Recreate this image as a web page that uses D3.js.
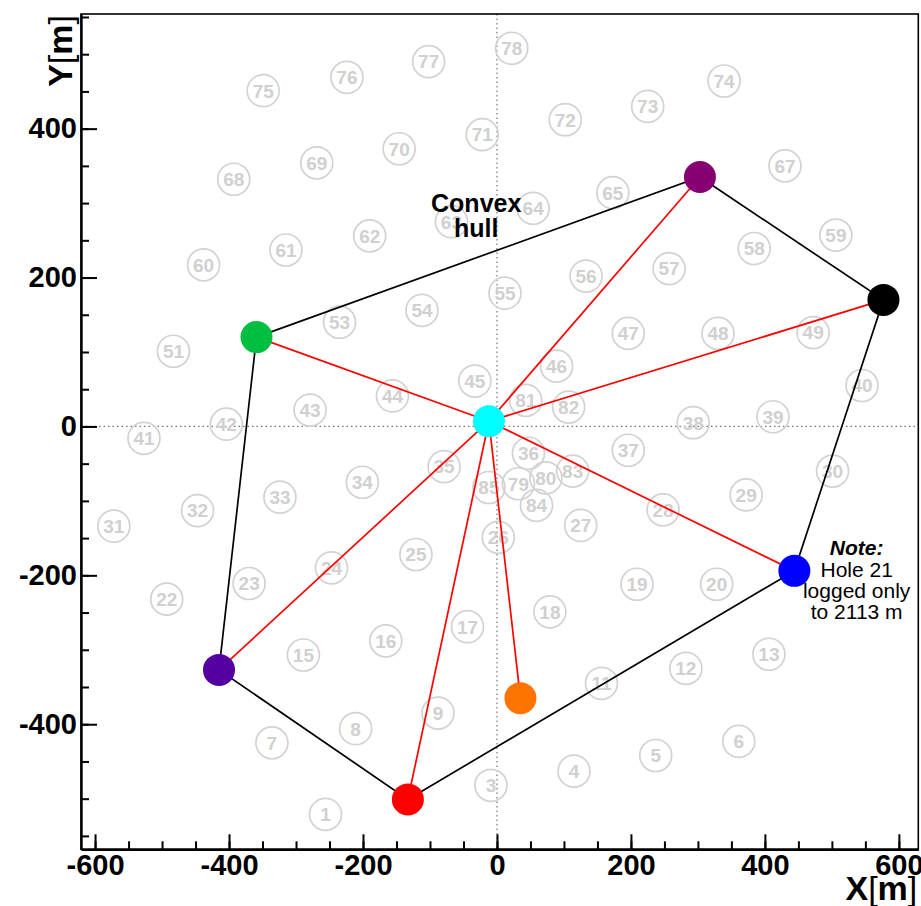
<!DOCTYPE html>
<html>
<head>
<meta charset="utf-8">
<script src="https://cdn.jsdelivr.net/npm/d3@7"></script>
<style>
  body { margin: 0; background: #fff; }
  text { font-family: "Liberation Sans", Arial, Helvetica, sans-serif; }
</style>
</head>
<body>
<div id="chart"></div>
<script>
// gray holes (number, x [m], y [m])
const holeIds = [1, 3, 4, 5, 6, 7, 8, 9, 11, 12, 13, 15, 16, 17, 18, 19, 20,
    22, 23, 24, 25, 26, 27, 28, 29, 30, 31, 32, 33, 34, 35, 36, 37, 38, 39, 40,
    41, 42, 43, 44, 45, 46, 47, 48, 49, 51, 53, 54, 55, 56, 57, 58, 59, 60, 61,
    62, 63, 64, 65, 67, 68, 69, 70, 71, 72, 73, 74, 75, 76, 77, 78, 79, 80, 81,
    82, 83, 84, 85];
const holeX = [-256, -9, 115, 237, 361, -336, -211, -88, 156, 282, 406, -289, -166, -44, 79, 209, 328,
    -493, -370, -247, -121, 2, 125, 248, 372, 501, -572, -447, -324, -201, -79, 47, 196, 293, 412, 545,
    -527, -404, -279, -156, -33, 89, 196, 330, 472, -483, -235, -112, 12, 133, 257, 384, 506, -438, -315,
    -190, -68, 54, 173, 430, -393, -269, -146, -22, 102, 225, 339, -349, -224, -102, 22, 32, 73, 43,
    107, 113, 59, -12];
const holeY = [-521, -482, -463, -442, -423, -425, -406, -385, -345, -325, -306, -307, -288, -269, -249, -212, -212,
    -232, -211, -190, -172, -149, -133, -112, -92, -60, -134, -113, -95, -75, -54, -36, -32, 5, 13, 55,
    -16, 3, 22, 41, 61, 81, 125, 125, 126, 101, 140, 156, 179, 202, 212, 239, 257, 217, 237,
    256, 275, 293, 314, 350, 332, 354, 373, 392, 412, 430, 464, 451, 469, 490, 508, -77, -69, 35,
    26, -60, -106, -82];

// logged holes, in convex hull order, plus hole 10 inside the hull
const wellIds = [52, 66, 50, 21, 2, 14, 10];
const wellX = [-359, 303, 577, 444, -133, -415, 35];
const wellY = [120, 335, 170, -194, -501, -327, -365];
const wellColors = ["#00bf40", "#870073", "#000000", "#0000ff", "#ff0000", "#5500a0", "#ff7300"];
const hullOrder = [52, 66, 50, 21, 2, 14];
const centre = {x: -12, y: 7};

const xMajor = [-600, -400, -200, 0, 200, 400, 600];
const yMajor = [-400, -200, 0, 200, 400];
const xMinor = d3.range(-600, 601, 50);
const yMinor = d3.range(-550, 551, 50);

const width = 921, height = 906;
const margin = {top: 14, right: 2.7, bottom: 56.7, left: 81};

const svg = d3.select("#chart").append("svg")
    .attr("width", width)
    .attr("height", height);

const x = d3.scaleLinear()
    .domain([-621, 629])
    .range([margin.left, width - margin.right]);
const y = d3.scaleLinear()
    .domain([-568, 554])
    .range([height - margin.bottom, margin.top]);

// zero lines
svg.append("line")
    .attr("x1", x(0)).attr("x2", x(0))
    .attr("y1", y.range()[1]).attr("y2", y.range()[0])
    .style("stroke", "#777").style("stroke-width", 1.2)
    .style("stroke-dasharray", "1.5,3");
svg.append("line")
    .attr("x1", x.range()[0]).attr("x2", x.range()[1])
    .attr("y1", y(0)).attr("y2", y(0))
    .style("stroke", "#777").style("stroke-width", 1.2)
    .style("stroke-dasharray", "1.5,3");

// gray holes
const holes = holeIds.map((id, i) => ({id: id, x: holeX[i], y: holeY[i]}));
const hg = svg.append("g").selectAll("g")
    .data(holes)
    .join("g")
    .attr("transform", d => `translate(${x(d.x)},${y(d.y)})`);
hg.append("circle")
    .attr("r", 16)
    .style("fill", "none")
    .style("stroke", "#d2d2d2")
    .style("stroke-width", 1.7);
hg.append("text")
    .attr("text-anchor", "middle")
    .attr("dy", "0.36em")
    .style("font-size", "19px")
    .style("font-weight", "bold")
    .style("fill", "#d0d0d0")
    .text(d => d.id);

const wells = wellIds.map((id, i) => ({id: id, x: wellX[i], y: wellY[i], color: wellColors[i]}));
const byId = {};
wells.forEach(d => byId[d.id] = d);

// convex hull
const hull = hullOrder.map(id => byId[id]);
svg.append("path")
    .datum(hull)
    .attr("fill", "none")
    .attr("stroke", "#000")
    .attr("stroke-width", 1.7)
    .attr("d", d3.line().x(d => x(d.x)).y(d => y(d.y)).curve(d3.curveLinearClosed));

// spokes from the centre
svg.append("g").selectAll("line")
    .data(wells)
    .join("line")
    .attr("x1", x(centre.x)).attr("y1", y(centre.y))
    .attr("x2", d => x(d.x)).attr("y2", d => y(d.y))
    .style("stroke", "#ff0000")
    .style("stroke-width", 1.7);

svg.append("g").selectAll("circle")
    .data(wells)
    .join("circle")
    .attr("cx", d => x(d.x))
    .attr("cy", d => y(d.y))
    .attr("r", 16)
    .style("fill", d => d.color);

svg.append("circle")
    .attr("cx", x(centre.x))
    .attr("cy", y(centre.y))
    .attr("r", 16)
    .style("fill", "#00ffff");

// annotations
const hullText = svg.append("text")
    .attr("x", x(-31))
    .attr("y", y(288))
    .attr("text-anchor", "middle")
    .style("font-size", "25px")
    .style("font-weight", "bold");
hullText.append("tspan").attr("x", x(-31)).text("Convex");
hullText.append("tspan").attr("x", x(-31)).attr("dy", 25).text("hull");

const noteLines = ["Hole 21", "logged only", "to 2113 m"];
const note = svg.append("text")
    .attr("x", x(537))
    .attr("y", y(-173))
    .attr("text-anchor", "middle")
    .style("font-size", "21px");
note.append("tspan").attr("x", x(537))
    .style("font-weight", "bold").style("font-style", "italic")
    .text("Note:");
noteLines.forEach(t => note.append("tspan").attr("x", x(537)).attr("dy", 21.4).text(t));

// frame
svg.append("rect")
    .attr("x", x.range()[0]).attr("y", y.range()[1])
    .attr("width", x.range()[1] - x.range()[0])
    .attr("height", y.range()[0] - y.range()[1])
    .style("fill", "none").style("stroke", "#000").style("stroke-width", 1.6);

// axes, labels with a plain hyphen as in the original
const fmt = d => String(d);

svg.append("g")
    .attr("transform", `translate(0,${y.range()[0]})`)
    .call(d3.axisBottom(x).tickValues(xMinor).tickSize(-8).tickSizeOuter(0).tickFormat(""))
    .call(g => g.select(".domain").remove())
    .selectAll("line").style("stroke-width", 2);
svg.append("g")
    .attr("transform", `translate(0,${y.range()[0]})`)
    .call(d3.axisBottom(x).tickValues(xMajor).tickSize(-15).tickSizeOuter(0).tickPadding(5).tickFormat(fmt))
    .call(g => g.select(".domain").style("stroke-width", 2.4))
    .call(g => g.selectAll("line").style("stroke-width", 2))
    .selectAll("text")
    .style("font-size", "29px")
    .style("font-weight", "bold")
    .style("fill", "#000");

svg.append("g")
    .attr("transform", `translate(${x.range()[0]},0)`)
    .call(d3.axisLeft(y).tickValues(yMinor).tickSize(-8).tickSizeOuter(0).tickFormat(""))
    .call(g => g.select(".domain").remove())
    .selectAll("line").style("stroke-width", 2);
svg.append("g")
    .attr("transform", `translate(${x.range()[0]},0)`)
    .call(d3.axisLeft(y).tickValues(yMajor).tickSize(-16).tickSizeOuter(0).tickPadding(4).tickFormat(fmt))
    .call(g => g.select(".domain").style("stroke-width", 2.4))
    .call(g => g.selectAll("line").style("stroke-width", 2))
    .selectAll("text")
    .style("font-size", "29px")
    .style("font-weight", "bold")
    .style("fill", "#000");

// axis titles
const xt = svg.append("text")
    .attr("x", x.range()[1] - 1)
    .attr("y", 900)
    .attr("text-anchor", "end")
    .style("font-size", "34px");
xt.append("tspan").style("font-weight", "bold").text("X");
xt.append("tspan").text("[");
xt.append("tspan").style("font-weight", "bold").text("m");
xt.append("tspan").text("]");

const yt = svg.append("text")
    .attr("transform", `translate(72,${y.range()[1] + 1}) rotate(-90)`)
    .attr("text-anchor", "end")
    .style("font-size", "34px");
yt.append("tspan").style("font-weight", "bold").text("Y");
yt.append("tspan").text("[");
yt.append("tspan").style("font-weight", "bold").text("m");
yt.append("tspan").text("]");
</script>
</body>
</html>
